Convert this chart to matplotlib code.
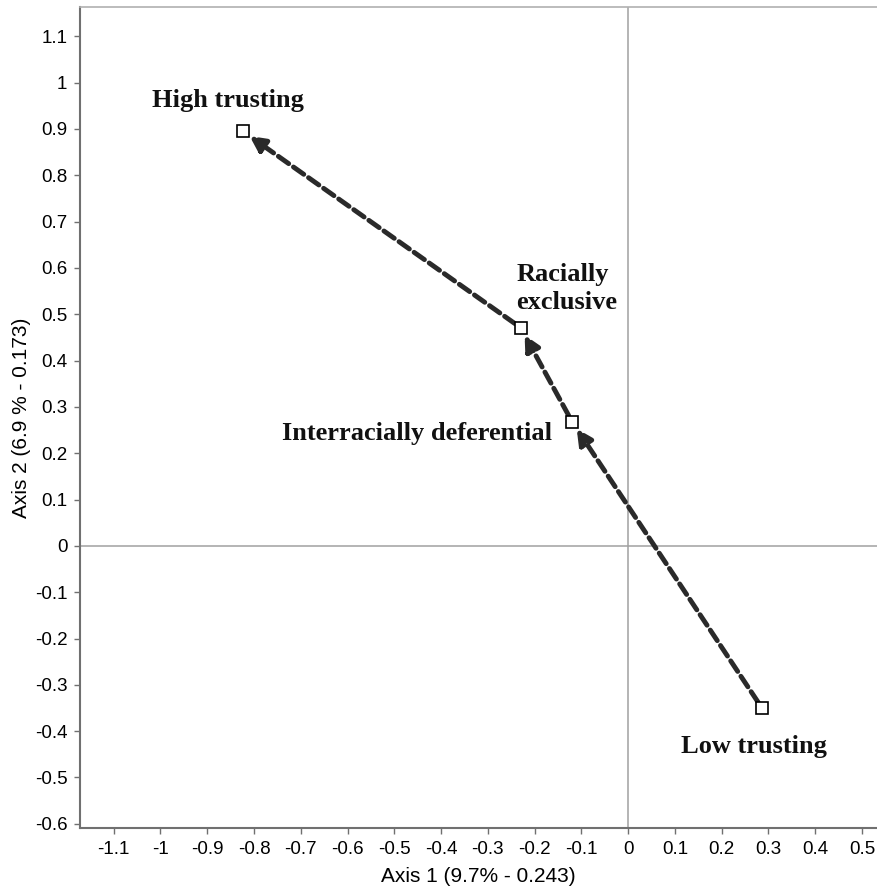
import matplotlib.pyplot as plt
import numpy as np

# category coordinates on the two axes
labels = ['Low trusting', 'Interracially deferential', 'Racially exclusive', 'High trusting']
axis1 = [0.286, -0.12, -0.23, -0.824]
axis2 = [-0.35, 0.268, 0.471, 0.895]

xticks = np.round(np.arange(-1.1, 0.51, 0.1), 1) + 0.0
yticks = np.round(np.arange(-0.6, 1.11, 0.1), 1) + 0.0

fig = plt.figure(figsize=(8.77, 8.90), dpi=100)
ax = fig.add_axes([80/877, 1 - 828/890, 1 - 80/877, (828 - 7)/890])

ax.set_xlim(-1.172, 0.532)
ax.set_ylim(-0.609, 1.163)

ax.axhline(0, color='#a0a0a0', lw=1.1, zorder=1)
ax.axvline(0, color='#a0a0a0', lw=1.1, zorder=1)

dark = '#2a2a2a'
for i in range(len(axis1) - 1):
    ax.annotate('', xy=(axis1[i + 1], axis2[i + 1]), xytext=(axis1[i], axis2[i]),
                arrowprops=dict(arrowstyle='-|>,head_length=0.9,head_width=0.45',
                                color=dark, lw=3.5, linestyle=(0, (2.6, 1.2)),
                                shrinkA=5, shrinkB=6), zorder=2)

ax.plot(axis1, axis2, ls='none', marker='s', ms=8.5, mfc='white', mec='black', mew=1.2, zorder=3)

serif = dict(family='Liberation Serif', fontweight='bold', fontsize=19, color='#111111')
ax.text(-0.856, 0.962, labels[3], ha='center', va='center', **serif)
ax.text(-0.239, 0.555, 'Racially\nexclusive', ha='left', va='center', linespacing=1.3, **serif)
ax.text(-0.452, 0.243, labels[1], ha='center', va='center', **serif)
ax.text(0.269, -0.433, labels[0], ha='center', va='center', **serif)

ax.set_xticks(xticks)
ax.set_xticklabels([f"{v:g}" for v in xticks])
ax.set_yticks(yticks)
ax.set_yticklabels([f"{v:g}" for v in yticks])
ax.tick_params(direction='out', length=4, width=1, color='#707070', labelsize=13.5, pad=5)
for t in ax.get_xticklabels() + ax.get_yticklabels():
    t.set_family('Liberation Sans')

for s in ['left', 'bottom']:
    ax.spines[s].set_color('#707070')
    ax.spines[s].set_linewidth(1.5)
ax.spines['top'].set_color('#b0b0b0')
ax.spines['top'].set_linewidth(1.2)
ax.spines['right'].set_visible(False)

ax.set_xlabel('Axis 1 (9.7% - 0.243)', family='Liberation Sans', fontsize=15, labelpad=7)
ax.set_ylabel('Axis 2 (6.9 % - 0.173)', family='Liberation Sans', fontsize=15, labelpad=3)

fig.savefig('out.png', dpi=100)
